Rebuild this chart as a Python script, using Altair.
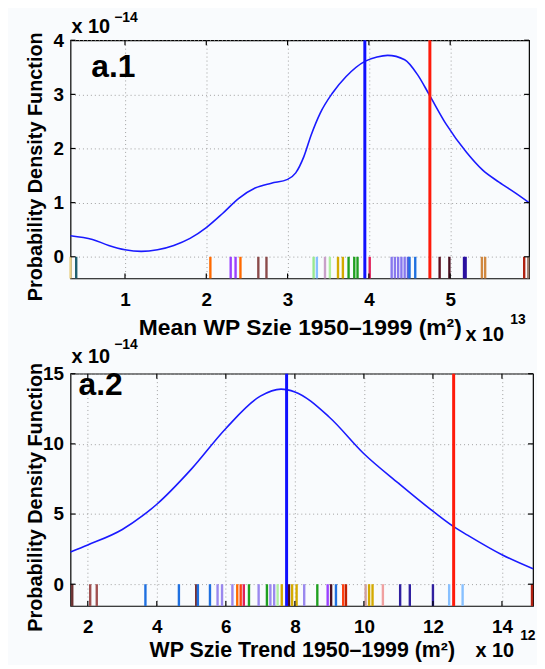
import altair as alt
import pandas as pd

FONT = "Liberation Sans"

# ---------------- Panel a.1 ----------------
x1 = [0.33, 0.6, 0.8, 1.0, 1.2, 1.4, 1.6, 1.8, 2.0, 2.2, 2.4, 2.6, 2.8, 3.0, 3.1, 3.2,
      3.29, 3.4, 3.55, 3.72, 3.95, 4.1, 4.23, 4.44, 4.6, 4.74, 4.95, 5.2, 5.4, 5.6, 5.8,
      5.97]
pdf1 = [0.39, 0.32, 0.21, 0.13, 0.10, 0.13, 0.21, 0.34, 0.54, 0.80, 1.08, 1.27, 1.36, 1.43,
        1.55, 1.85, 2.25, 2.65, 3.02, 3.33, 3.61, 3.69, 3.72, 3.64, 3.36, 3.0, 2.45, 1.93,
        1.60, 1.38, 1.18, 1.00]
rug1_x = [0.33, 0.40, 2.05, 2.30, 2.36, 2.42, 2.64, 2.74, 3.32, 3.36, 3.46, 3.52, 3.62,
          3.68, 3.75, 3.82, 3.86, 4.01, 4.28, 4.32, 4.36, 4.40, 4.44, 4.48, 4.50, 4.57,
          4.87, 4.99, 5.17, 5.19, 5.39, 5.43, 5.91, 5.96]
rug1_c = ["#e8d088", "#1f5f6f", "#ff6a00", "#9a40ff", "#9a40ff", "#ff6a00", "#8b4a4a",
          "#8b4a4a", "#98e890", "#88c0ff", "#c8a0c8", "#b0f0a0", "#d4aa00", "#d4aa00",
          "#20a020", "#20a020", "#20a020", "#e0205a", "#8878ee", "#8878ee", "#8878ee",
          "#8878ee", "#8878ee", "#6060e0", "#1f70e0", "#1f70e0", "#5a1020", "#4a1020",
          "#2a10a0", "#2a10a0", "#d08840", "#d08840", "#b02010", "#a08070"]
model1 = 3.95
obs1 = 4.75

# ---------------- Panel a.2 ----------------
x2 = [1.5, 2.0, 3.0, 3.6, 4.0, 5.0, 6.0, 7.0, 7.6, 8.0, 9.0, 10.0, 11.0, 12.0, 12.6,
      13.0, 14.0, 14.9]
pdf2 = [2.3, 2.8, 3.9, 4.9, 5.7, 8.2, 11.1, 13.4, 13.9, 13.7, 11.9, 9.3, 7.2, 5.2,
        4.1, 3.5, 2.1, 1.1]
rug2_x = [1.55, 2.07, 2.26, 3.67, 4.64, 5.14, 5.19, 5.54, 5.76, 5.89, 6.19, 6.33, 6.43,
          6.52, 6.67, 6.95, 7.19, 7.29, 7.40, 7.50, 7.62, 7.83, 7.92, 8.05, 8.27, 8.65,
          8.95, 9.05, 9.19, 9.40, 9.48, 10.05, 10.15, 10.25, 10.55, 11.05, 11.33, 12.00,
          12.47, 12.86, 14.87]
rug2_c = ["#6b3030", "#a05050", "#a05050", "#1f70e0", "#1f70e0", "#7a3030", "#1f70e0",
          "#1f70e0", "#9a88ee", "#9a88ee", "#9a88ee", "#ff6a00", "#ff4010", "#e0205a",
          "#20a020", "#9a88ee", "#20a020", "#9a88ee", "#9a88ee", "#b0f0a0", "#d4aa00",
          "#4a1020", "#d4aa00", "#d4aa00", "#9a88ee", "#20a020", "#9a40ff", "#4a1020",
          "#1f70e0", "#ff4010", "#c02000", "#d0a0a0", "#d4aa00", "#d4aa00", "#f0a0a0",
          "#3020a0", "#3020a0", "#3020a0", "#88c0ff", "#88c0ff", "#b02010"]
model2 = 7.76
obs2 = 12.6

GRID = dict(grid=True, gridDash=[1, 3], gridColor="#a0a0a0", gridWidth=1,
            ticks=False, domain=False, labelFont=FONT, labelFontSize=19,
            labelFontWeight="bold", labelColor="black")

TICK_PX = 5


def txt(s, size, x, y, base="middle"):
    return alt.Chart(pd.DataFrame({"t": [s]})).mark_text(
        font=FONT, fontSize=size, fontWeight="bold", align="left", baseline=base,
        color="black").encode(x=alt.value(x), y=alt.value(y), text="t:N")


def panel(xs, ys, rx, rc, model, obs, xdom, ydom, xvals, yvals, w, h, xtitle,
          label, exp_x, pos):
    xsc = alt.Scale(domain=xdom, nice=False, zero=False)
    ysc = alt.Scale(domain=ydom, nice=False, zero=False)
    xax = alt.Axis(values=xvals, format="d", title=xtitle, titleFont=FONT,
                   titleFontSize=pos["tfs"], titleFontWeight="bold", titleColor="black",
                   titlePadding=pos["tpad"], labelPadding=12, **GRID)
    yax = alt.Axis(values=yvals, format="d", title="Probability Density Function",
                   titleFont=FONT, titleFontSize=20, titleFontWeight="bold",
                   titleColor="black", titleX=-35, titleY=h / 2 + 7, titleAngle=270,
                   titleBaseline="middle", titleAlign="center", labelPadding=7, **GRID)
    cdf = pd.DataFrame({"x": xs, "y": ys})
    curve = alt.Chart(cdf).mark_line(color="#1a1aff", strokeWidth=1.6,
                                     interpolate="monotone").encode(
        x=alt.X("x:Q", scale=xsc, axis=xax), y=alt.Y("y:Q", scale=ysc, axis=yax))
    rdf = pd.DataFrame({"x": rx, "c": rc})
    rug = alt.Chart(rdf).mark_rule(strokeWidth=2.4).encode(
        x=alt.X("x:Q", scale=xsc), y=alt.datum(0), y2=alt.datum(ydom[0]),
        color=alt.Color("c:N", scale=None))
    vdf = pd.DataFrame({"x": [model, obs], "c": ["#1010ff", "#ff1a0a"]})
    vlines = alt.Chart(vdf).mark_rule(strokeWidth=3).encode(
        x=alt.X("x:Q", scale=xsc), color=alt.Color("c:N", scale=None))
    # inward tick marks on all four sides (MATLAB box style)
    dy = (ydom[1] - ydom[0]) / h * TICK_PX
    dx = (xdom[1] - xdom[0]) / w * TICK_PX
    xt = pd.DataFrame({"x": xvals * 2,
                       "a": [ydom[0]] * len(xvals) + [ydom[1]] * len(xvals),
                       "b": [ydom[0] + dy] * len(xvals) + [ydom[1] - dy] * len(xvals)})
    yt = pd.DataFrame({"y": yvals * 2,
                       "a": [xdom[0]] * len(yvals) + [xdom[1]] * len(yvals),
                       "b": [xdom[0] + dx] * len(yvals) + [xdom[1] - dx] * len(yvals)})
    xticks = alt.Chart(xt).mark_rule(color="black", strokeWidth=1.2).encode(
        x=alt.X("x:Q", scale=xsc), y=alt.Y("a:Q", scale=ysc), y2="b:Q")
    yticks = alt.Chart(yt).mark_rule(color="black", strokeWidth=1.2).encode(
        y=alt.Y("y:Q", scale=ysc), x=alt.X("a:Q", scale=xsc), x2="b:Q")
    lab = alt.Chart(pd.DataFrame({"t": [label]})).mark_text(
        font=FONT, fontSize=32, fontWeight="bold", align="left", baseline="middle",
        color="black").encode(x=alt.value(pos["lx"]), y=alt.value(pos["ly"]), text="t:N")
    e1 = txt("x 10", 20, pos["ex"], pos["ey"])
    e2 = txt("\u221214", 14, pos["ex"] + 43, pos["sy"], pos["sb"])
    f1 = txt("x 10", 20, pos["fx"], pos["fy"])
    f2 = txt(exp_x, 14, pos["fx"] + 45, pos["fy"] - pos["fd"])
    return alt.layer(rug, curve, vlines, xticks, yticks, lab, e1, e2, f1, f2).properties(
        width=w, height=h)


top = panel(x1, pdf1, rug1_x, rug1_c, model1, obs1, [0.33, 5.97], [-0.4, 4.0],
            [1, 2, 3, 4, 5], [0, 1, 2, 3, 4], 462, 240,
            "Mean WP Szie 1950\u20131999 (m\u00b2)", "a.1", "13",
            dict(tfs=23, tpad=7, lx=21, ly=27, ex=1, ey=-13, sy=-29, sb="top",
                 fx=398, fy=240 + 57, fd=15))
bot = panel(x2, pdf2, rug2_x, rug2_c, model2, obs2, [1.5, 14.9], [-1.55, 15.0],
            [2, 4, 6, 8, 10, 12, 14], [0, 5, 10, 15], 466, 234,
            "WP Szie Trend 1950\u20131999 (m\u00b2)", "a.2", "12",
            dict(tfs=21.5, tpad=3, lx=8, ly=11, ex=1, ey=-17, sy=-29, sb="middle",
                 fx=408, fy=234 + 45, fd=15))

chart = alt.vconcat(top, bot, spacing=96, bounds="flush").properties(
    padding={"left": 17, "top": 0, "right": 0, "bottom": 0},
    background="#f9fbfd",
).configure_view(stroke="black", strokeWidth=1.2)

chart.save("out.html", embed_options={"renderer": "svg", "actions": False})
